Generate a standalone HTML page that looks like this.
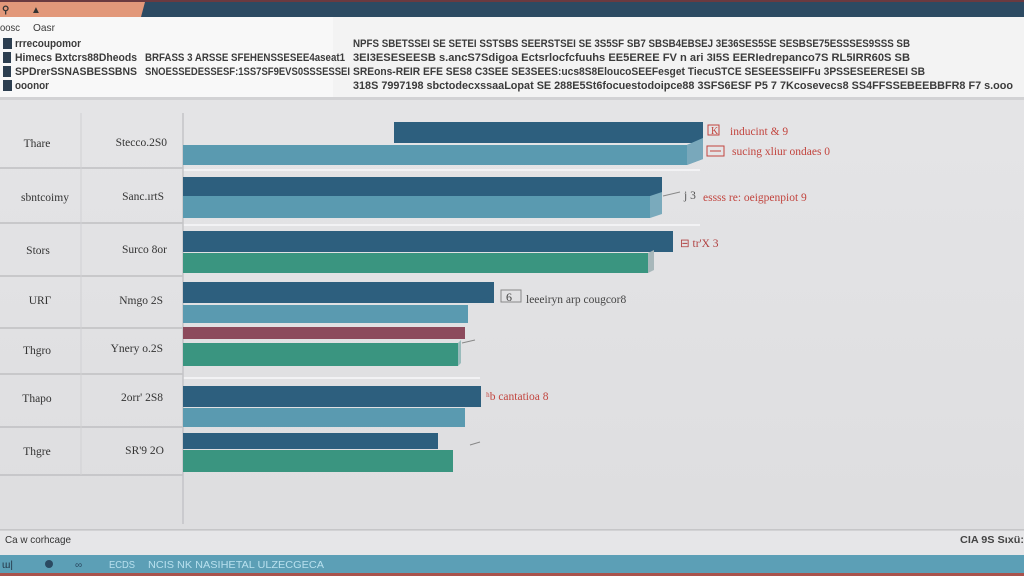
<!DOCTYPE html>
<html><head><meta charset="utf-8"><style>
html,body{margin:0;padding:0;background:#e2e2e4;}
svg{display:block;}
.s{font-family:"Liberation Sans",sans-serif;}
.r{font-family:"Liberation Serif",serif;}
</style></head><body>
<svg width="1024" height="576" viewBox="0 0 1024 576" xmlns="http://www.w3.org/2000/svg">
<defs>
<linearGradient id="bg" x1="0" y1="0" x2="0" y2="1"><stop offset="0" stop-color="#e6e6e8"/><stop offset="1" stop-color="#dddddf"/></linearGradient>
</defs>
<rect width="1024" height="576" fill="url(#bg)"/>
<!-- top bar -->
<rect x="0" y="0" width="1024" height="18" fill="#2c4a62"/>
<polygon points="0,2 145,2 141,17 0,17" fill="#e2987a"/>
<rect x="0" y="0" width="1024" height="2" fill="#6a3a40"/>
<text class="s" x="2" y="13" font-size="10" font-weight="bold" fill="#333">⚲</text>
<text class="s" x="31" y="13" font-size="10" font-weight="bold" fill="#333">&#9650;</text>
<!-- header panel -->
<rect x="0" y="17" width="1024" height="80" fill="#f3f3f3"/>
<rect x="0" y="17" width="333" height="80" fill="#f8f8f8"/>
<rect x="0" y="97" width="1024" height="3" fill="#d2d2d4"/>
<g class="s" font-size="10.5" fill="#3a3a3a">
<text x="0" y="31" textLength="20" lengthAdjust="spacingAndGlyphs">oosc</text>
<text x="33" y="31" textLength="22" lengthAdjust="spacingAndGlyphs">Oasr</text>
</g>
<g fill="#2c3e50">
<rect x="3" y="38" width="9" height="11"/><rect x="3" y="52" width="8" height="11"/><rect x="3" y="66" width="8" height="11"/><rect x="3" y="80" width="9" height="11"/>
</g>
<g class="s" font-size="11" font-weight="bold" fill="#3b3b3b">
<text x="15" y="47" textLength="66" lengthAdjust="spacingAndGlyphs">rrrecoupomor</text>
<text x="15" y="61" textLength="122" lengthAdjust="spacingAndGlyphs">Himecs Bxtcrs88Dheods</text>
<text x="15" y="75" textLength="122" lengthAdjust="spacingAndGlyphs">SPDrerSSNASBESSBNS</text>
<text x="15" y="89" textLength="34" lengthAdjust="spacingAndGlyphs">ooonor</text>
<text x="145" y="61" textLength="200" lengthAdjust="spacingAndGlyphs">BRFASS 3 ARSSE SFEHENSSESEE4aseat1</text>
<text x="145" y="75" textLength="205" lengthAdjust="spacingAndGlyphs">SNOESSEDESSESF:1SS7SF9EVS0SSSESSEI</text>
<text x="353" y="47" textLength="557" lengthAdjust="spacingAndGlyphs">NPFS SBETSSEI SE SETEI SSTSBS SEERSTSEI SE 3S5SF SB7 SBSB4EBSEJ 3E36SES5SE SESBSE75ESSSES9SSS SB</text>
<text x="353" y="61" textLength="557" lengthAdjust="spacingAndGlyphs">3EI3ESESEESB s.ancS7Sdigoa Ectsrlocfcfuuhs EE5EREE FV n ari 3I5S EERIedrepanco7S RL5IRR60S SB</text>
<text x="353" y="75" textLength="572" lengthAdjust="spacingAndGlyphs">SREons-REIR EFE SES8 C3SEE SE3SEES:ucs8S8EloucoSEEFesget TiecuSTCE SESEESSEIFFu 3PSSESEERESEI SB</text>
<text x="353" y="89" textLength="660" lengthAdjust="spacingAndGlyphs">318S 7997198 sbctodecxssaaLopat SE 288E5St6focuestodoipce88 3SFS6ESF P5 7 7Kcosevecs8 SS4FFSSEBEEBBFR8 F7 s.ooo</text>
</g>
<!-- table lines -->
<g stroke="#bfbfc2" stroke-width="1.5">
<line x1="0" y1="168" x2="183" y2="168"/>
<line x1="0" y1="223" x2="183" y2="223"/>
<line x1="0" y1="276" x2="183" y2="276"/>
<line x1="0" y1="328" x2="183" y2="328"/>
<line x1="0" y1="374" x2="183" y2="374"/>
<line x1="0" y1="427" x2="183" y2="427"/>
<line x1="0" y1="475" x2="183" y2="475"/>
</g>
<g stroke="#d0d0d3" stroke-width="1">
<line x1="81" y1="113" x2="81" y2="475"/>
</g>
<g stroke="#f2f2f4" stroke-width="2">
<line x1="183" y1="170" x2="700" y2="170"/>
<line x1="183" y1="225" x2="700" y2="225"/>
<line x1="183" y1="378" x2="480" y2="378"/>
</g>
<line x1="183" y1="113" x2="183" y2="524" stroke="#c4c4c7" stroke-width="1.5"/>
<!-- labels -->
<g class="r" font-size="11.5" fill="#333" text-anchor="middle">
<text x="37" y="147">Thare</text>
<text x="45" y="201">sbntcoimy</text>
<text x="38" y="254">Stors</text>
<text x="40" y="304">URΓ</text>
<text x="37" y="354">Thgro</text>
<text x="37" y="402">Thapo</text>
<text x="37" y="455">Thgre</text>
</g>
<g class="r" font-size="11.5" fill="#333" text-anchor="end">
<text x="167" y="146">Stecco.2S0</text>
<text x="164" y="200">Sanc.ırtS</text>
<text x="167" y="253">Surco 8or</text>
<text x="163" y="304">Nmgo 2S</text>
<text x="163" y="352">Ynery o.2S</text>
<text x="163" y="401">2orr' 2S8</text>
<text x="164" y="454">SR'9 2O</text>
</g>
<!-- bars -->
<polygon points="394,122 703,122 703,143 394,143" fill="#2d5f7e"/>
<polygon points="183,145 687,145 703,138 703,159 687,165 183,165" fill="#5a9ab0"/>
<polygon points="687,145 703,138 703,159 687,165" fill="#79a8bb"/>
<rect x="183" y="177" width="479" height="19" fill="#2d5f7e"/>
<rect x="183" y="196" width="467" height="22" fill="#5a9ab0"/>
<polygon points="650,196 662,192 662,214 650,218" fill="#7aaabc"/>
<rect x="183" y="231" width="490" height="21" fill="#2d5f7e"/>
<rect x="183" y="253" width="465" height="20" fill="#3a9580"/>
<polygon points="648,253 654,250 654,270 648,273" fill="#a7b7ba"/>
<rect x="183" y="282" width="311" height="21" fill="#2d5f7e"/>
<polygon points="468,303 494,296 494,303" fill="#2d5f7e"/>
<rect x="183" y="305" width="285" height="18" fill="#5a9ab0"/>
<rect x="183" y="327" width="282" height="12" fill="#8c4a5c"/>
<rect x="183" y="343" width="275" height="23" fill="#3a9580"/>
<polygon points="458,343 461,340 461,363 458,366" fill="#9bb"/>
<rect x="183" y="386" width="298" height="21" fill="#2d5f7e"/>
<rect x="183" y="408" width="282" height="19" fill="#5a9ab0"/>
<rect x="183" y="433" width="255" height="16" fill="#2d5f7e"/>
<rect x="183" y="450" width="270" height="22" fill="#3a9580"/>
<g stroke="#888" stroke-width="1" fill="none">
<line x1="462" y1="343" x2="475" y2="340"/>
<line x1="470" y1="445" x2="480" y2="442"/>
<line x1="663" y1="196" x2="680" y2="192"/>
<rect x="501" y="290" width="20" height="12"/>
</g>
<!-- annotations -->
<g class="r" font-size="11.5" fill="#c2453f">
<rect x="708" y="125" width="11" height="10" fill="none" stroke="#c2453f"/>
<text x="711" y="134" font-size="10">K</text>
<text x="730" y="135">inducint &amp; 9</text>
<rect x="707" y="146" width="17" height="10" fill="none" stroke="#c2453f"/>
<line x1="710" y1="151" x2="721" y2="151" stroke="#c2453f"/>
<text x="732" y="155">sucing xliur ondaes 0</text>
<text x="684" y="199" fill="#555">j 3</text>
<text x="703" y="201">essss re: oeigpenpiot 9</text>
<text x="680" y="247" fill="#b04040">⊟ tr'X 3</text>
<text x="486" y="400">ʰb cantatioa 8</text>
</g>
<text class="r" x="506" y="301" font-size="12" fill="#444">6</text>
<text class="r" x="526" y="303" font-size="11.5" fill="#444">leeeiryn arp cougcor8</text>
<!-- bottom -->
<rect x="0" y="529" width="1024" height="1.5" fill="#c6c6c8"/>
<rect x="0" y="531" width="1024" height="24" fill="#e6e6e8"/>
<text class="s" x="5" y="543" font-size="10.5" fill="#333" textLength="66" lengthAdjust="spacingAndGlyphs">Ca w corhcage</text>
<text class="s" x="960" y="543" font-size="10" font-weight="bold" fill="#444" textLength="64" lengthAdjust="spacingAndGlyphs">ϹIA 9S Sιxü:</text>
<rect x="0" y="555" width="1024" height="18" fill="#5c9fb6"/>
<rect x="0" y="573" width="1024" height="3" fill="#a9534c"/>
<g class="s" font-size="10" fill="#b8e0ee">
<text x="2" y="568" fill="#234">ɯ|</text>
<circle cx="49" cy="564" r="4" fill="#2b4a62"/>
<text x="75" y="568" fill="#2b4a62">∞</text>
<text x="109" y="568" textLength="26" lengthAdjust="spacingAndGlyphs">ECDS</text>
<text x="148" y="568" textLength="176" lengthAdjust="spacingAndGlyphs">NCIS NK NASIHETAL ULZECGECA</text>
</g>
</svg>
</body></html>
